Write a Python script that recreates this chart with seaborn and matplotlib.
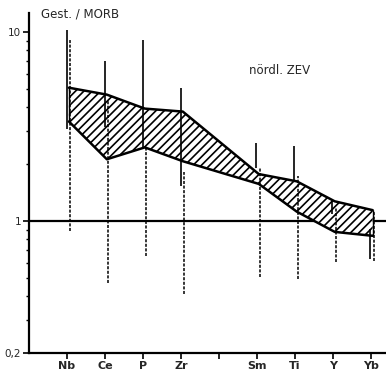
import numpy as np
import pandas as pd
import matplotlib
matplotlib.use("Agg")
import matplotlib.pyplot as plt
from matplotlib.ticker import FixedLocator, NullFormatter
import seaborn as sns

# ---- data ----
tick_labels = ["Nb", "Ce", "P", "Zr", "", "Sm", "Ti", "Y", "Yb"]
elements = ["Nb", "Ce", "P", "Zr", "Sm", "Ti", "Y", "Yb"]
band_upper = [5.07, 4.66, 3.93, 3.79, 1.77, 1.62, 1.27, 1.14]
band_lower = [3.36, 2.12, 2.45, 2.07, 1.57, 1.12, 0.875, 0.834]
solid_lo = [3.05, 3.16, 2.40, 1.53, 1.90, 1.65, 1.09, 0.63]
solid_hi = [10.2, 7.03, 9.08, 5.07, 2.57, 2.48, 1.27, 0.91]
dashed_lo = [0.886, 0.472, 0.655, 0.408, 0.507, 0.495, 0.608, 0.616]
dashed_hi = [9.2, 4.39, 2.48, 1.81, 1.92, 1.72, 1.18, 1.13]
y_ticks = [0.2, 1, 10]
y_tick_labels = ["0,2", "1", "10"]
title_left = "Gest. / MORB"
title_right = "nördl. ZEV"

sns.set_style("ticks")
plt.rcParams["font.family"] = ["DejaVu Sans"]
plt.rcParams["hatch.linewidth"] = 1.2

pos = [tick_labels.index(e) for e in elements]
df = pd.DataFrame({"element": elements, "x": pos,
                   "upper": band_upper, "lower": band_lower})
df["xb"] = df["x"] + 0.05

fig = plt.figure(figsize=(3.86, 3.75), dpi=100)
ax = fig.add_axes([29 / 386, 22 / 375, 357 / 386, 340 / 375])
ax.set_yscale("log")

# hatched band
ax.fill_between(df["xb"], df["lower"], df["upper"], facecolor="white",
                edgecolor="black", hatch="////", linewidth=0, zorder=2)
sns.lineplot(data=df, x="xb", y="upper", color="black", linewidth=1.8,
             ax=ax, zorder=3, sort=False)
sns.lineplot(data=df, x="xb", y="lower", color="black", linewidth=1.8,
             ax=ax, zorder=3, sort=False)
# close the band at ends
ax.vlines([df["xb"].iloc[0], df["xb"].iloc[-1]],
          [df["lower"].iloc[0], df["lower"].iloc[-1]],
          [df["upper"].iloc[0], df["upper"].iloc[-1]],
          color="black", linewidth=1.0, zorder=3)

# range lines
xp = np.array(pos, dtype=float)
ax.vlines(xp - 0.01, solid_lo, solid_hi, color="black", linewidth=1.2, zorder=4)
ax.vlines(xp + 0.09, dashed_lo, dashed_hi, color="black", linewidth=1.1,
          linestyles=(0, (2.0, 1.0)), zorder=4)

ax.axhline(1, color="black", linewidth=1.6, zorder=1)

ax.set_xlim(-1, 8.4)
ax.set_ylim(0.2, 12.6)

ax.set_xticks(range(len(tick_labels)))
ax.set_xticklabels(tick_labels, fontsize=8, fontweight="bold")
ax.yaxis.set_major_locator(FixedLocator(y_ticks))
ax.set_yticklabels(y_tick_labels, fontsize=7.5)
ax.yaxis.set_minor_locator(FixedLocator(
    [0.3, 0.4, 0.5, 0.6, 0.7, 0.8, 0.9, 2, 3, 4, 5, 6, 7, 8, 9]))
ax.yaxis.set_minor_formatter(NullFormatter())
ax.tick_params(axis="both", which="major", direction="out", length=4,
               width=1.2, color="black", pad=1.5)
ax.tick_params(axis="y", which="minor", direction="out", length=2.5,
               width=1.0, color="black")
ax.set_xlabel("")
ax.set_ylabel("")
sns.despine(ax=ax)
for s in ["left", "bottom"]:
    ax.spines[s].set_linewidth(1.6)
    ax.spines[s].set_color("black")

fig.text(41 / 386, 1 - 14 / 375, title_left, fontsize=8.5, va="center",
         ha="left")
fig.text(249 / 386, 1 - 70 / 375, title_right, fontsize=8.5, va="center",
         ha="left")

fig.savefig("out.png", dpi=100, facecolor="white")
